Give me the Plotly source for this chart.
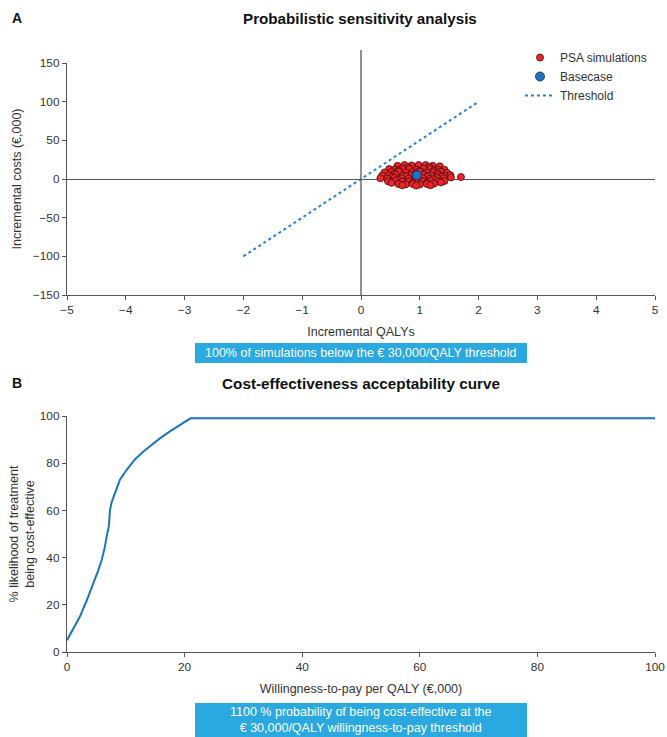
import plotly.graph_objects as go

# ---------------- Data ----------------
# PSA simulations (incremental QALYs, incremental costs in €,000)
psa_qaly = [
    0.62, 0.74, 0.86, 0.98, 1.10, 1.22, 1.34, 0.80, 1.16,
    0.48, 0.58, 0.70, 0.82, 0.94, 1.06, 1.18, 1.30, 1.42, 0.64, 1.00, 1.24,
    0.40, 0.52, 0.64, 0.76, 0.88, 1.00, 1.12, 1.24, 1.36, 1.46, 0.57, 0.93, 1.30,
    0.36, 0.47, 0.59, 0.71, 0.83, 1.07, 1.19, 1.31, 1.43, 1.52, 0.53, 0.77, 1.13, 1.37,
    0.33, 0.45, 0.57, 0.69, 0.81, 0.93, 1.05, 1.17, 1.29, 1.41, 1.53, 1.70, 0.62, 0.99, 1.23,
    0.46, 0.58, 0.70, 0.82, 0.94, 1.06, 1.18, 1.30, 1.42, 0.52, 0.88, 1.12, 1.36,
    0.64, 0.76, 0.88, 1.00, 1.12, 1.24, 0.70, 0.94, 1.18,
]
psa_cost = [
    17, 18, 17.5, 18, 18, 17, 16.5, 15, 15.5,
    13, 12.5, 13.5, 13, 12, 13.5, 13, 12.5, 12, 11, 10.5, 11,
    8.5, 9, 9.5, 8.5, 9, 9.5, 8.5, 9, 9.5, 8, 7, 7, 7.5,
    4.5, 5, 5.5, 4.5, 5, 5.5, 4.5, 5, 4.5, 5, 3, 3.5, 3, 3,
    1, 0.5, 1.5, 1, 0.5, 1.5, 1, 0.5, 1.5, 1, 2, 2.5, -1, -1, -0.5,
    -3, -2.5, -3.5, -3, -3.5, -3, -2.5, -3, -2.5, -5, -5.5, -5, -4.5,
    -6.5, -7, -6.5, -7, -6.5, -6, -8, -8.5, -8,
]
base_qaly = [0.95]
base_cost = [5]

threshold_qaly = [-2, 2]
threshold_cost = [-100, 100]

# Cost-effectiveness acceptability curve
wtp = [0, 1, 2.2, 3.3, 4.5, 5.3, 5.9, 6.4, 6.75, 7.0, 7.1, 7.2, 7.3, 7.6,
       8.2, 9, 10.1, 11.5, 13, 14.5, 15.8, 17.5, 19, 20.4, 21,
       30, 40, 50, 60, 70, 80, 90, 100]
prob = [5, 9.5, 15, 21.5, 29, 34.5, 39, 44, 49, 52, 53, 56, 60, 63.5,
        68, 73, 77, 81.5, 85, 88, 90.5, 93.5, 96, 98, 99,
        99, 99, 99, 99, 99, 99, 99, 99]

xticks_a = [-5, -4, -3, -2, -1, 0, 1, 2, 3, 4, 5]
yticks_a = [-150, -100, -50, 0, 50, 100, 150]
ticks_b = [0, 20, 40, 60, 80, 100]

# ---------------- Figure ----------------
W, H = 667, 737
FONT = "Liberation Sans, Arial, sans-serif"
AX = "#555555"
BLUE_BOX = "#29a9e0"

def px_x(p):
    return p / W

def px_y(p):
    return 1 - p / H

fig = go.Figure()

fig.add_trace(go.Scatter(
    x=psa_qaly, y=psa_cost, mode="markers", name="PSA simulations",
    marker=dict(color="#e8262b", size=7, line=dict(color="#4a0a0a", width=0.8)),
    xaxis="x", yaxis="y",
))
fig.add_trace(go.Scatter(
    x=base_qaly, y=base_cost, mode="markers", name="Basecase",
    marker=dict(color="#1f72c4", size=9, line=dict(color="#0b2c52", width=0.8)),
    xaxis="x", yaxis="y",
))
fig.add_trace(go.Scatter(
    x=threshold_qaly, y=threshold_cost, mode="lines", name="Threshold",
    line=dict(color="#2a7fd0", width=2, dash="dot"),
    xaxis="x", yaxis="y",
))
fig.add_trace(go.Scatter(
    x=wtp, y=prob, mode="lines", showlegend=False,
    line=dict(color="#1b75bc", width=2),
    xaxis="x2", yaxis="y2",
))

axis_common = dict(
    showgrid=False, showline=True, linecolor=AX, linewidth=1.3,
    ticks="outside", ticklen=4, tickcolor=AX, tickwidth=1,
    automargin=False, ticklabeloverflow="allow",
    tickfont=dict(family=FONT, size=11.8, color="#333333"),
    title_font=dict(family=FONT, size=12.5, color="#333333"),
)

fig.update_layout(
    width=W, height=H,
    margin=dict(l=0, r=0, t=0, b=0, pad=0, autoexpand=False),
    paper_bgcolor="white", plot_bgcolor="white",
    font=dict(family=FONT, color="#333333"),
    xaxis=dict(
        domain=[px_x(67), px_x(655)], range=[-5, 5], tickvals=xticks_a,
        zeroline=False, anchor="y",
        title=dict(text="Incremental QALYs", standoff=10),
        **axis_common,
    ),
    yaxis=dict(
        domain=[px_y(295), px_y(63)], range=[-150, 150], tickvals=yticks_a,
        zeroline=True, zerolinecolor=AX, zerolinewidth=1.3, anchor="x",
        title=dict(text="Incremental costs (€,000)", standoff=8),
        **axis_common,
    ),
    xaxis2=dict(
        domain=[px_x(67), px_x(655)], range=[0, 100], tickvals=ticks_b,
        zeroline=False, anchor="y2",
        title=dict(text="Willingness-to-pay per QALY (€,000)", standoff=10),
        **axis_common,
    ),
    yaxis2=dict(
        domain=[px_y(652), px_y(416)], range=[0, 100], tickvals=ticks_b,
        zeroline=False, anchor="x2",
        title=dict(text="% likelihood of treatment<br>being cost-effective", standoff=2),
        **axis_common,
    ),
    legend=dict(
        x=px_x(520), y=px_y(43), xanchor="left", yanchor="top",
        bgcolor="rgba(0,0,0,0)", font=dict(family=FONT, size=12, color="#333333"),
        tracegroupgap=0, itemwidth=30,
    ),
    showlegend=True,
)

# vertical zero line in panel A (extends above the plot)
fig.add_shape(type="line", xref="x", yref="paper", x0=0, x1=0,
              y0=px_y(295), y1=px_y(50), line=dict(color=AX, width=1.3))

# Blue info boxes
fig.add_shape(type="rect", xref="paper", yref="paper",
              x0=px_x(195), x1=px_x(527), y0=px_y(363), y1=px_y(343),
              fillcolor=BLUE_BOX, line=dict(width=0), layer="below")
fig.add_annotation(xref="paper", yref="paper", x=px_x(361), y=px_y(353),
                   xanchor="center", yanchor="middle",
                   text="100% of simulations below the € 30,000/QALY threshold",
                   showarrow=False, font=dict(family=FONT, size=12.5, color="white"))
fig.add_shape(type="rect", xref="paper", yref="paper",
              x0=px_x(195), x1=px_x(527), y0=0, y1=px_y(703),
              fillcolor=BLUE_BOX, line=dict(width=0), layer="below")
fig.add_annotation(xref="paper", yref="paper", x=px_x(361), y=px_y(720),
                   xanchor="center", yanchor="middle",
                   text="1100 % probability of being cost-effective at the<br>€ 30,000/QALY willingness-to-pay threshold",
                   showarrow=False, font=dict(family=FONT, size=12.5, color="white"))

# Titles and panel letters
fig.add_annotation(xref="paper", yref="paper", x=px_x(360), y=px_y(18),
                   xanchor="center", yanchor="middle",
                   text="<b>Probabilistic sensitivity analysis</b>", showarrow=False,
                   font=dict(family=FONT, size=15.2, color="#111111"))
fig.add_annotation(xref="paper", yref="paper", x=px_x(10), y=px_y(18),
                   xanchor="left", yanchor="middle",
                   text="<b>A</b>", showarrow=False,
                   font=dict(family=FONT, size=14, color="#111111"))
fig.add_annotation(xref="paper", yref="paper", x=px_x(361), y=px_y(383),
                   xanchor="center", yanchor="middle",
                   text="<b>Cost-effectiveness acceptability curve</b>", showarrow=False,
                   font=dict(family=FONT, size=15.3, color="#111111"))
fig.add_annotation(xref="paper", yref="paper", x=px_x(10), y=px_y(383),
                   xanchor="left", yanchor="middle",
                   text="<b>B</b>", showarrow=False,
                   font=dict(family=FONT, size=14, color="#111111"))

fig.write_html("out.html",
               config={"displayModeBar": False},
               post_script="document.body.style.margin='0';document.body.style.overflow='hidden';")
